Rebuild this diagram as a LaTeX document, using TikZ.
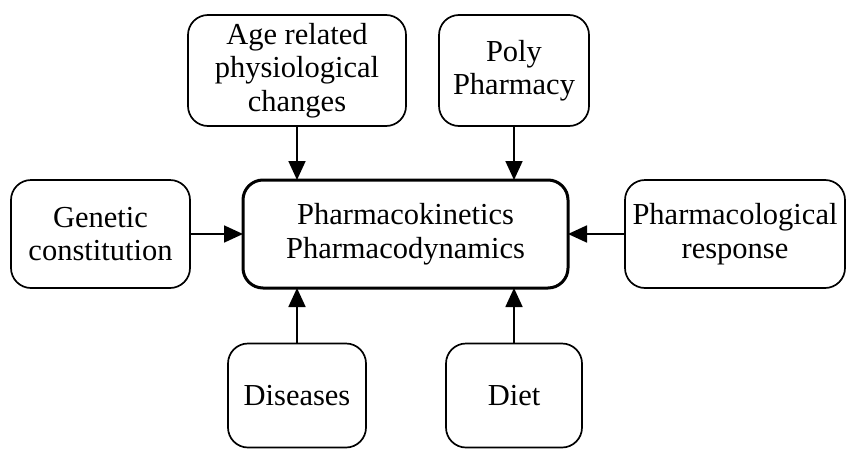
\documentclass[tikz,border=0pt]{standalone}
\usepackage{fontspec}
\setmainfont{Liberation Serif}
\usetikzlibrary{arrows.meta}
\begin{document}
\begin{tikzpicture}[x=1pt,y=-1pt,
  box/.style={draw, line width=1.7pt, rounded corners=20pt, align=center, inner sep=0pt, outer sep=0pt,
    font=\fontsize{30.5}{33.5}\selectfont},
  mainbox/.style={box, line width=3pt},
  arr/.style={line width=1.8pt, -{Triangle[length=19pt,width=17pt]}}]
\useasboundingbox (0,0) rectangle (853,450);
\node[box, minimum width=218pt, minimum height=111pt] (age) at (297,70.5) {Age related\\physiological\\changes};
\node[box, minimum width=150pt, minimum height=111pt] (poly) at (514,70.5) {Poly\\Pharmacy};
\node[box, minimum width=179pt, minimum height=108pt] (gen) at (100.5,234) {Genetic\\constitution};
\node[mainbox, minimum width=325pt, minimum height=108pt] (center) at (405.5,234) {Pharmacokinetics\\Pharmacodynamics};
\node[box, minimum width=220pt, minimum height=108pt] (pharm) at (735,234) {Pharmacological\\response};
\node[box, minimum width=138pt, minimum height=104pt] (dis) at (297,395.5) {Diseases};
\node[box, minimum width=136pt, minimum height=104pt] (diet) at (514,395.5) {Diet};
\draw[arr] (age.south) -- (age.south |- center.north);
\draw[arr] (poly.south) -- (poly.south |- center.north);
\draw[arr] (dis.north) -- (dis.north |- center.south);
\draw[arr] (diet.north) -- (diet.north |- center.south);
\draw[arr] (gen.east) -- (center.west);
\draw[arr] (pharm.west) -- (center.east);
\end{tikzpicture}
\end{document}
